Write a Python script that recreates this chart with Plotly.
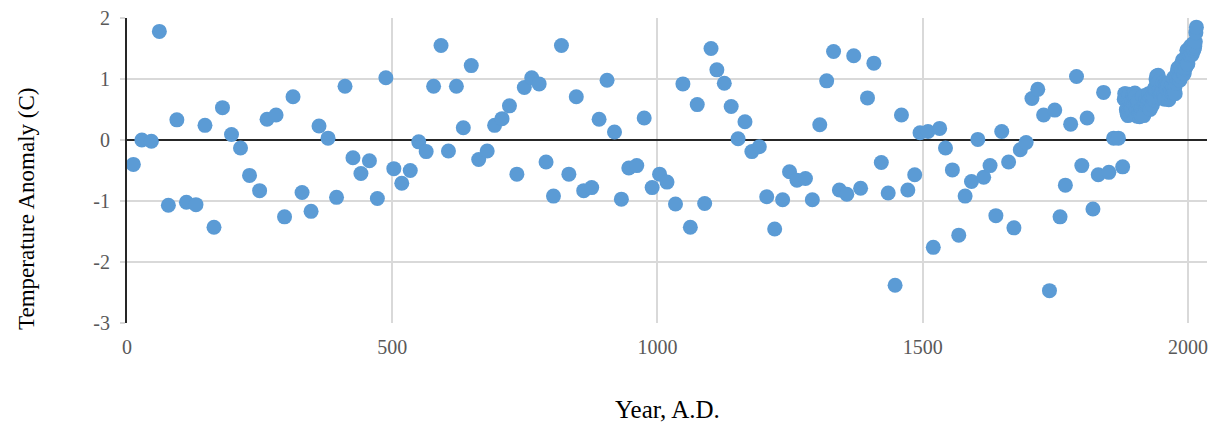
import plotly.graph_objects as go

# Sparse proxy reconstruction (years, anomaly in C)
proxy_years = [12, 28, 46, 61, 78, 94, 112, 130, 147, 164, 180, 197, 214, 231, 250, 264, 281, 297, 313, 330,
               347, 362, 379, 395, 411, 426, 441, 457, 472, 488, 503, 518, 534, 550, 564, 578, 592, 606, 621, 634,
               649, 663, 679, 693, 707, 721, 735, 749, 763, 777, 790, 804, 819, 833, 847, 861, 876, 890, 905, 919,
               932, 946, 961, 975, 990, 1004, 1018, 1034, 1048, 1062, 1075, 1089, 1101, 1112, 1126, 1139, 1152, 1165, 1178, 1192,
               1206, 1221, 1236, 1249, 1263, 1279, 1292, 1306, 1319, 1332, 1343, 1357, 1370, 1383, 1396, 1408, 1422, 1435, 1448, 1460,
               1472, 1485, 1495, 1510, 1520, 1532, 1543, 1556, 1568, 1580, 1592, 1604, 1615, 1627, 1638, 1649, 1662, 1672, 1684, 1695,
               1706, 1717, 1728, 1739, 1749, 1759, 1769, 1779, 1790, 1800, 1810, 1821, 1831, 1841, 1851, 1860, 1869, 1877]
proxy_vals = [-0.40, 0.00, -0.02, 1.78, -1.07, 0.33, -1.02, -1.06, 0.24, -1.43, 0.53, 0.09, -0.13, -0.58, -0.83, 0.34, 0.41, -1.26, 0.71, -0.86,
              -1.17, 0.23, 0.03, -0.94, 0.88, -0.29, -0.55, -0.34, -0.96, 1.02, -0.47, -0.71, -0.50, -0.03, -0.19, 0.88, 1.55, -0.18, 0.88, 0.20,
              1.22, -0.32, -0.18, 0.24, 0.35, 0.56, -0.56, 0.86, 1.02, 0.92, -0.36, -0.92, 1.55, -0.56, 0.71, -0.83, -0.78, 0.34, 0.98, 0.13,
              -0.97, -0.46, -0.42, 0.36, -0.78, -0.56, -0.69, -1.05, 0.92, -1.43, 0.58, -1.04, 1.50, 1.15, 0.93, 0.55, 0.02, 0.30, -0.19, -0.11,
              -0.93, -1.46, -0.98, -0.52, -0.66, -0.63, -0.98, 0.25, 0.97, 1.45, -0.82, -0.89, 1.38, -0.79, 0.69, 1.26, -0.37, -0.87, -2.38, 0.41,
              -0.82, -0.57, 0.12, 0.14, -1.76, 0.19, -0.13, -0.49, -1.56, -0.92, -0.68, 0.01, -0.61, -0.42, -1.24, 0.14, -0.36, -1.44, -0.16, -0.04,
              0.68, 0.83, 0.41, -2.47, 0.49, -1.26, -0.74, 0.26, 1.04, -0.42, 0.36, -1.13, -0.57, 0.78, -0.53, 0.03, 0.03, -0.44]

# Annual instrumental values 1880-2016
annual_years = list(range(1880, 2017))
annual_vals = [0.67, 0.76, 0.76, 0.67, 0.50, 0.45, 0.42, 0.40, 0.68, 0.75,
               0.49, 0.62, 0.55, 0.50, 0.52, 0.63, 0.75, 0.75, 0.59, 0.68,
               0.77, 0.71, 0.58, 0.49, 0.39, 0.60, 0.64, 0.47, 0.43, 0.38,
               0.43, 0.42, 0.50, 0.52, 0.71, 0.72, 0.50, 0.40, 0.57, 0.59,
               0.59, 0.67, 0.58, 0.60, 0.59, 0.64, 0.76, 0.64, 0.66, 0.50,
               0.70, 0.77, 0.70, 0.57, 0.73, 0.66, 0.71, 0.83, 0.86, 0.84,
               0.99, 1.05, 0.93, 0.95, 1.06, 0.95, 0.79, 0.83, 0.75, 0.75,
               0.69, 0.79, 0.87, 0.94, 0.73, 0.72, 0.67, 0.91, 0.92, 0.89,
               0.83, 0.92, 0.89, 0.91, 0.66, 0.75, 0.80, 0.84, 0.78, 0.91,
               0.89, 0.78, 0.87, 1.02, 0.79, 0.85, 0.76, 1.04, 0.93, 1.02,
               1.12, 1.18, 1.00, 1.17, 1.02, 0.98, 1.04, 1.18, 1.25, 1.13,
               1.31, 1.26, 1.08, 1.09, 1.17, 1.31, 1.19, 1.32, 1.47, 1.24,
               1.25, 1.40, 1.49, 1.48, 1.39, 1.54, 1.50, 1.52, 1.40, 1.51,
               1.58, 1.47, 1.50, 1.54, 1.61, 1.76, 1.85]

x_ticks = [0, 500, 1000, 1500, 2000]
y_ticks = [-3, -2, -1, 0, 1, 2]

BLUE = "#5B9BD5"
GRID = "#D9D9D9"
SERIF = "Liberation Serif, Times New Roman, serif"

fig = go.Figure()
fig.add_trace(go.Scatter(
    x=proxy_years + annual_years,
    y=proxy_vals + annual_vals,
    mode="markers",
    marker=dict(size=15, color=BLUE, line=dict(width=0)),
    showlegend=False,
))

fig.update_layout(
    width=1222, height=423,
    margin=dict(l=127, r=15, t=18, b=100, autoexpand=False),
    paper_bgcolor="white", plot_bgcolor="white",
    font=dict(family=SERIF, size=20, color="#595959"),
    xaxis=dict(
        range=[0, 2036], tickvals=x_ticks, ticktext=[str(v) for v in x_ticks],
        showgrid=True, gridcolor=GRID, gridwidth=1.5,
        zeroline=False, showline=False, ticks="", ticklabelstandoff=10,
        tickfont=dict(family=SERIF, size=20, color="#595959"),
    ),
    yaxis=dict(
        range=[-3, 2], tickvals=y_ticks, ticktext=[str(v) for v in y_ticks],
        showgrid=True, gridcolor=GRID, gridwidth=1.5,
        zeroline=True, zerolinecolor="#262626", zerolinewidth=2,
        showline=True, linecolor="#262626", linewidth=2,
        ticks="outside", ticklen=5, tickcolor=GRID, tickwidth=1.5,
        ticklabelstandoff=6,
        tickfont=dict(family=SERIF, size=20, color="#595959"),
    ),
    annotations=[
        dict(text="Year, A.D.", xref="paper", yref="paper", x=0.5, y=0,
             xanchor="center", yanchor="middle", yshift=-86, showarrow=False,
             font=dict(family=SERIF, size=25, color="black")),
        dict(text="Temperature Anomaly (C)", xref="paper", yref="paper", x=0, y=0.374,
             xanchor="center", yanchor="middle", xshift=-100, textangle=-90, showarrow=False,
             font=dict(family=SERIF, size=23, color="black")),
    ],
)

fig.write_html("out.html",
               config={"displayModeBar": False},
               post_script="document.body.style.margin='0';document.body.style.overflow='hidden';")
